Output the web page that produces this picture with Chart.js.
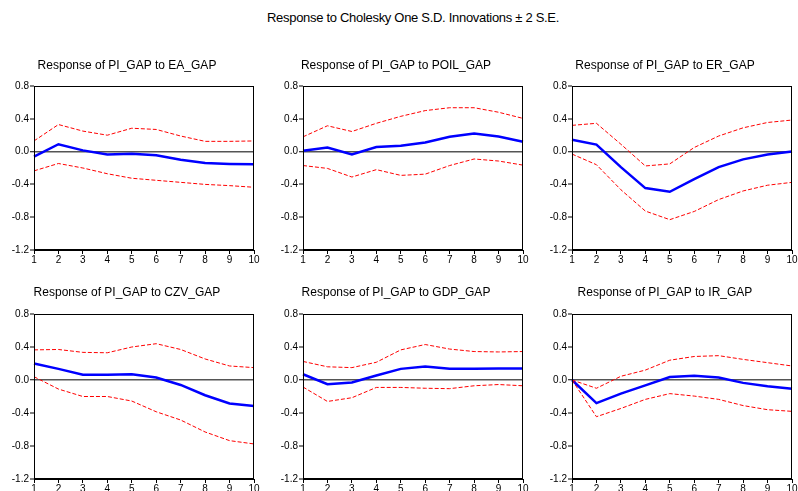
<!DOCTYPE html>
<html>
<head>
<meta charset="utf-8">
<script src="https://cdn.jsdelivr.net/npm/chart.js@4.4.1/dist/chart.umd.min.js"></script>
<style>
  html, body { margin:0; padding:0; background:#fff; width:798px; height:491px; overflow:hidden; }
  #main { position:absolute; left:0; top:10px; width:826px; text-align:center; font-family:"Liberation Sans", Arial, sans-serif; font-size:13px; color:#000; letter-spacing:-0.3px; }
  canvas { position:absolute; }
</style>
</head>
<body>
<div id="main">Response to Cholesky One S.D. Innovations ± 2 S.E.</div>
<canvas id="c0" width="260" height="208"></canvas>
<canvas id="c1" width="260" height="208"></canvas>
<canvas id="c2" width="260" height="208"></canvas>
<canvas id="c3" width="260" height="210"></canvas>
<canvas id="c4" width="260" height="210"></canvas>
<canvas id="c5" width="260" height="210"></canvas>
<script>
// ---- data ----
const periods = ['1','2','3','4','5','6','7','8','9','10'];
const yTickValues = [-1.2, -0.8, -0.4, 0.0, 0.4, 0.8];
const responseVar = 'PI_GAP';
const shocks = ['EA_GAP','POIL_GAP','ER_GAP','CZV_GAP','GDP_GAP','IR_GAP'];

const eaIrf   = [-0.06, 0.09, 0.015, -0.035, -0.025, -0.045, -0.10, -0.14, -0.15, -0.155];
const eaUpper = [0.13, 0.33, 0.25, 0.20, 0.285, 0.27, 0.19, 0.125, 0.125, 0.13];
const eaLower = [-0.235, -0.145, -0.20, -0.27, -0.325, -0.35, -0.375, -0.40, -0.415, -0.435];

const poilIrf   = [0.01, 0.05, -0.035, 0.055, 0.07, 0.11, 0.18, 0.22, 0.185, 0.12];
const poilUpper = [0.18, 0.315, 0.245, 0.345, 0.43, 0.50, 0.535, 0.535, 0.48, 0.405];
const poilLower = [-0.17, -0.205, -0.31, -0.22, -0.29, -0.275, -0.17, -0.09, -0.115, -0.165];

const erIrf   = [0.145, 0.085, -0.19, -0.445, -0.49, -0.335, -0.19, -0.095, -0.035, 0.0];
const erUpper = [0.32, 0.345, 0.09, -0.175, -0.15, 0.05, 0.19, 0.29, 0.355, 0.385];
const erLower = [-0.03, -0.16, -0.465, -0.725, -0.83, -0.73, -0.585, -0.48, -0.41, -0.375];

const czvIrf   = [0.20, 0.135, 0.065, 0.065, 0.07, 0.03, -0.06, -0.185, -0.285, -0.315];
const czvUpper = [0.365, 0.37, 0.335, 0.33, 0.40, 0.44, 0.37, 0.255, 0.17, 0.15];
const czvLower = [0.04, -0.11, -0.20, -0.20, -0.255, -0.385, -0.485, -0.63, -0.735, -0.775];

const gdpIrf   = [0.07, -0.05, -0.03, 0.055, 0.135, 0.165, 0.135, 0.135, 0.14, 0.14];
const gdpUpper = [0.225, 0.16, 0.15, 0.215, 0.365, 0.43, 0.375, 0.345, 0.34, 0.345];
const gdpLower = [-0.085, -0.26, -0.215, -0.09, -0.09, -0.10, -0.105, -0.07, -0.055, -0.07];

const irIrf   = [0.0, -0.28, -0.165, -0.065, 0.035, 0.05, 0.03, -0.035, -0.075, -0.105];
const irUpper = [0.0, -0.10, 0.045, 0.12, 0.24, 0.285, 0.295, 0.25, 0.21, 0.17];
const irLower = [0.0, -0.445, -0.345, -0.235, -0.165, -0.195, -0.235, -0.31, -0.36, -0.38];

const irfs   = [eaIrf, poilIrf, erIrf, czvIrf, gdpIrf, irIrf];
const uppers = [eaUpper, poilUpper, erUpper, czvUpper, gdpUpper, irUpper];
const lowers = [eaLower, poilLower, erLower, czvLower, gdpLower, irLower];

// ---- layout ----
const plotLefts = [34, 303, 572];
const rowTops = [58, 285];     // canvas tops
const rowPlotTops = [86, 314]; // chart-area tops
const FONT = "'Liberation Sans', Arial, sans-serif";

const boxPlugin = {
  id: 'box',
  afterDatasetsDraw(chart) {
    const a = chart.chartArea, ctx = chart.ctx;
    ctx.save();
    ctx.strokeStyle = '#000';
    ctx.lineWidth = 1;
    ctx.strokeRect(Math.round(a.left) + 0.5, Math.round(a.top) + 0.5,
                   Math.round(a.right - a.left) - 1, Math.round(a.bottom - a.top) - 1);
    ctx.restore();
  }
};

for (let i = 0; i < 6; i++) {
  const row = Math.floor(i / 3), col = i % 3;
  const cv = document.getElementById('c' + i);
  cv.style.left = (plotLefts[col] - 34) + 'px';
  cv.style.top = rowTops[row] + 'px';
  const titleBottomPad = rowPlotTops[row] - rowTops[row] - 14.4;
  new Chart(cv, {
    type: 'line',
    data: {
      labels: periods,
      datasets: [
        { data: uppers[i], borderColor: '#ff0000', borderWidth: 1, borderDash: [4, 2], pointRadius: 0, tension: 0, fill: false },
        { data: lowers[i], borderColor: '#ff0000', borderWidth: 1, borderDash: [4, 2], pointRadius: 0, tension: 0, fill: false },
        { data: irfs[i], borderColor: '#0000ff', borderWidth: 2.5, pointRadius: 0, tension: 0, fill: false }
      ]
    },
    plugins: [boxPlugin],
    options: {
      responsive: false,
      animation: false,
      devicePixelRatio: 1,
      layout: { padding: { left: 0, right: 6, top: 0, bottom: 0 } },
      plugins: {
        legend: { display: false },
        tooltip: { enabled: false },
        title: {
          display: true,
          text: 'Response of ' + responseVar + ' to ' + shocks[i],
          color: '#000',
          font: { family: FONT, size: 12, weight: 'normal', lineHeight: 1.2 },
          padding: { top: 0, bottom: titleBottomPad }
        }
      },
      scales: {
        x: {
          type: 'category',
          offset: false,
          afterFit(s) { s.height = 16; },
          grid: { display: true, drawOnChartArea: false, drawTicks: true, tickLength: 4, color: '#000' },
          border: { display: true, color: '#000', width: 1 },
          ticks: { color: '#000', font: { family: FONT, size: 10 }, padding: 0, maxRotation: 0, autoSkip: false }
        },
        y: {
          min: -1.2, max: 0.8,
          afterBuildTicks(s) { s.ticks = yTickValues.map(v => ({ value: v })); },
          afterFit(s) { s.width = 34; },
          grid: {
            drawTicks: true, tickLength: 4,
            color: (c) => (c.tick && Math.abs(c.tick.value) < 1e-9) ? '#555555' : 'rgba(0,0,0,0)',
            lineWidth: (c) => (c.tick && Math.abs(c.tick.value) < 1e-9) ? 1.5 : 0,
            tickColor: '#000', tickWidth: 1
          },
          border: { display: true, color: '#000', width: 1 },
          ticks: {
            color: '#000', font: { family: FONT, size: 10 }, padding: 1,
            callback: (v) => Number(v).toFixed(1)
          }
        }
      }
    }
  });
}
</script>
</body>
</html>
